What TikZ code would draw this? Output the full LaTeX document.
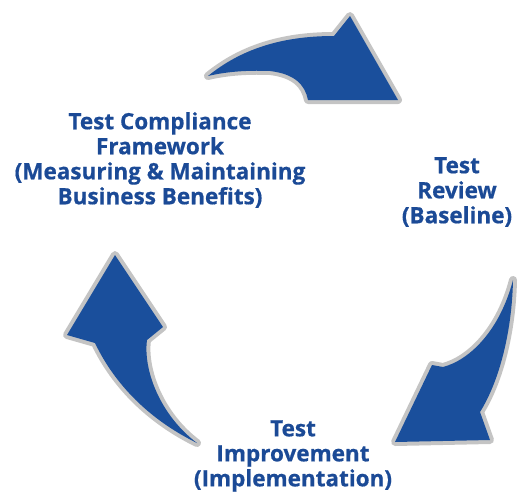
\documentclass[tikz,border=0pt]{standalone}
\usepackage{fontspec}
\setmainfont{Open Sans}[BoldFeatures={FakeBold=0.6}]
\usepackage{xcolor}
\definecolor{pfeilblau}{RGB}{26,79,156}
\definecolor{textblau}{RGB}{27,74,150}
\definecolor{randgrau}{RGB}{196,196,196}
\tikzset{
  pfeil/.style={fill=pfeilblau, preaction={draw=randgrau, line width=8pt, line join=round}},
  beschriftung/.style={text=textblau, font=\bfseries\fontsize{22.5}{25}\selectfont, align=center, inner sep=0pt}
}

\begin{document}
\begin{tikzpicture}[x=1pt, y=-1pt]
    % Rahmen
    \useasboundingbox (0,0) rectangle (519,495);

    % Pfeil oben (nach rechts)
    \path[pfeil] (208,76) .. controls (240,50) and (280,36) .. (334,36)
        -- (350,16) -- (398,100) -- (308,100)
        .. controls (305,85) and (295,74) .. (270,71)
        .. controls (245,70) and (225,72) .. (208,76) -- cycle;

    % Pfeil rechts (nach unten)
    \path[pfeil] (513,280) .. controls (512,330) and (500,380) .. (480,412)
        -- (490,440) -- (395,442) -- (432,365) -- (443,367)
        .. controls (470,360) and (500,330) .. (513,280) -- cycle;

    % Pfeil links (nach oben)
    \path[pfeil] (115,255) -- (163,327) -- (147,340)
        .. controls (143,370) and (160,415) .. (197,443)
        .. controls (150,420) and (115,385) .. (95,343)
        -- (67,335) -- cycle;

    % Beschriftungen
    \node[beschriftung] (compliance) at (160,160) {Test Compliance\\Framework\\(Measuring \& Maintaining\\Business Benefits)};
    \node[beschriftung] (review) at (457,192) {Test\\Review\\(Baseline)};
    \node[beschriftung] (improvement) at (293,456) {Test\\Improvement\\(Implementation)};
\end{tikzpicture}
\end{document}
